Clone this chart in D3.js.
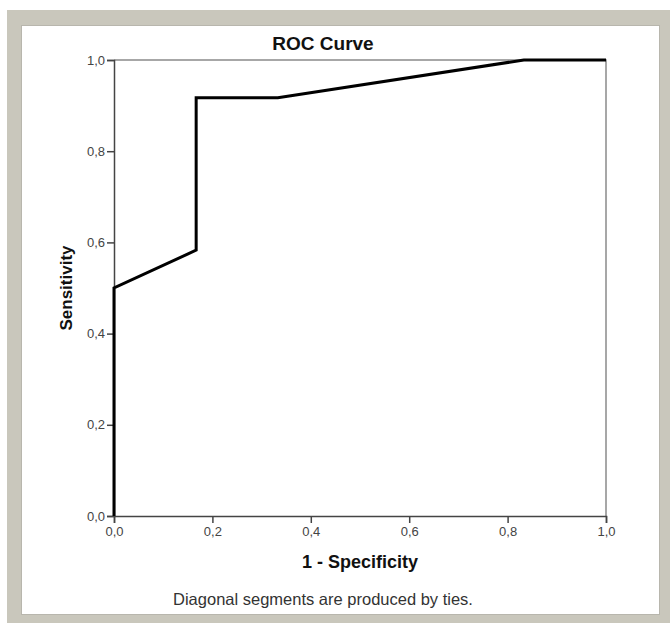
<!DOCTYPE html>
<html lang="en">
<head>
    <meta charset="UTF-8">
    <title>ROC Curve</title>
    <style>
        html, body {
            margin: 0;
            padding: 0;
            background-color: #ffffff;
            font-family: 'Liberation Sans', Arial, sans-serif;
        }
        svg { display: block; }
    </style>
</head>
<body>
    <div id="graph"></div>
    <script src="https://d3js.org/d3.v7.min.js"></script>
    <script>
        // DATA
        const specificity1 = [0, 0, 0.167, 0.167, 0.333, 0.833, 1.0];
        const sensitivity = [0, 0.5, 0.583, 0.917, 0.917, 1.0, 1.0];
        const tickValues = [0, 0.2, 0.4, 0.6, 0.8, 1.0];

        const W = 670, H = 623;
        const margin = {top: 60, left: 114, bottom: 107, right: 64};
        const width = W - margin.left - margin.right;   // 492
        const height = H - margin.top - margin.bottom;  // 456

        const svg = d3.select("#graph")
            .append("svg")
            .attr("width", W)
            .attr("height", H);

        // FRAME AROUND THE CHART
        svg.append("rect")
            .attr("x", 7).attr("y", 10)
            .attr("width", W - 7).attr("height", H - 10)
            .attr("fill", "#c9c7bc");
        svg.append("rect")
            .attr("x", 21.5).attr("y", 25.5)
            .attr("width", 638).attr("height", 589)
            .attr("fill", "#ffffff")
            .attr("stroke", "#b8b6ad")
            .attr("stroke-width", 1);

        const g = svg.append("g")
            .attr("transform", `translate(${margin.left}, ${margin.top})`);

        // SCALES
        const x = d3.scaleLinear().domain([0, 1]).range([0, width]);
        const y = d3.scaleLinear().domain([0, 1]).range([height, 0]);
        const fmt = d => d3.format(".1f")(d).replace(".", ",");

        // TOP AND RIGHT BORDER OF PLOT
        g.append("path")
            .attr("d", `M0,${y(1)}H${x(1)}V${y(0)}`)
            .attr("fill", "none")
            .attr("stroke", "#8a8a8a")
            .attr("stroke-width", 1.5);

        // AXES
        const xAxis = g.append("g")
            .attr("transform", `translate(0, ${height})`)
            .call(d3.axisBottom(x).tickValues(tickValues).tickFormat(fmt).tickSizeOuter(0).tickSize(7).tickPadding(4));
        const yAxis = g.append("g")
            .call(d3.axisLeft(y).tickValues(tickValues).tickFormat(fmt).tickSizeOuter(0).tickSize(7).tickPadding(2));

        [xAxis, yAxis].forEach(a => {
            a.select(".domain").attr("stroke", "#444").attr("stroke-width", 1.5);
            a.selectAll(".tick line").attr("stroke", "#444").attr("stroke-width", 1.5);
            a.selectAll(".tick text")
                .attr("fill", "#444")
                .style("font-family", "'Liberation Sans', Arial, sans-serif")
                .style("font-size", "13px");
        });

        // ROC LINE
        const points = specificity1.map((d, i) => [d, sensitivity[i]]);
        g.append("path")
            .datum(points)
            .attr("fill", "none")
            .attr("stroke", "#000")
            .attr("stroke-width", 3)
            .attr("stroke-linejoin", "miter")
            .attr("d", d3.line().x(d => x(d[0])).y(d => y(d[1])));

        // TITLES
        svg.append("text")
            .attr("x", 323).attr("y", 50)
            .attr("text-anchor", "middle")
            .style("font-size", "19px")
            .style("font-weight", "bold")
            .attr("fill", "#111")
            .text("ROC Curve");

        svg.append("text")
            .attr("x", margin.left + width / 2).attr("y", 568)
            .attr("text-anchor", "middle")
            .style("font-size", "18px")
            .style("font-weight", "bold")
            .attr("fill", "#111")
            .text("1 - Specificity");

        svg.append("text")
            .attr("transform", `translate(72, ${margin.top + height / 2}) rotate(-90)`)
            .attr("text-anchor", "middle")
            .style("font-size", "17px")
            .style("font-weight", "bold")
            .attr("fill", "#111")
            .text("Sensitivity");

        svg.append("text")
            .attr("x", 323).attr("y", 605)
            .attr("text-anchor", "middle")
            .style("font-size", "16.5px")
            .attr("fill", "#333")
            .text("Diagonal segments are produced by ties.");
    </script>
</body>
</html>
